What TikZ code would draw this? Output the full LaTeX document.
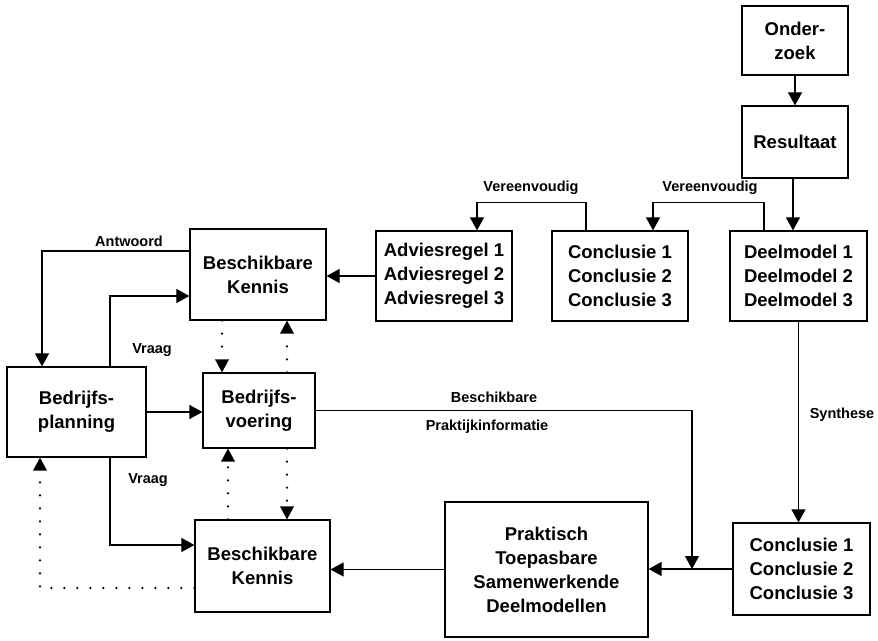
\documentclass[tikz,border=0pt]{standalone}
\usepackage{fontspec}
\setmainfont{Liberation Sans}
\usetikzlibrary{arrows.meta,calc}
\tikzset{
  box/.style={draw, line width=1.2pt, align=center, inner sep=0pt,
    font=\fontsize{18.5}{24}\selectfont\bfseries},
  lbl/.style={font=\fontsize{14.5}{16}\selectfont\bfseries, inner sep=0pt},
  arr/.style={line width=1.1pt, -{Triangle[length=13pt,width=14pt]}},
  dotarr/.style={line width=2.6pt, line cap=round, dash pattern=on 0pt off 13pt,
    -{Triangle[length=13pt,width=14pt,line width=0pt]}},
}
\begin{document}
\begin{tikzpicture}[x=1pt,y=-1pt]
\useasboundingbox (0,0) rectangle (878,640);
% boxes
\node[box, minimum width=106pt, minimum height=69pt] (ond) at (795,40.5) {Onder-\\zoek};
\node[box, minimum width=106pt, minimum height=72pt] (res) at (795,142) {Resultaat};
\node[box, minimum width=137pt, minimum height=90pt] (deel) at (798.5,276) {Deelmodel 1\\Deelmodel 2\\Deelmodel 3};
\node[box, minimum width=136pt, minimum height=90pt] (conca) at (620,276) {Conclusie 1\\Conclusie 2\\Conclusie 3};
\node[box, minimum width=136pt, minimum height=90pt] (adv) at (444,276) {Adviesregel 1\\Adviesregel 2\\Adviesregel 3};
\node[box, minimum width=136pt, minimum height=91pt] (bka) at (258,274.5) {Beschikbare\\Kennis};
\node[box, minimum width=139pt, minimum height=90pt] (bp) at (76.5,412) {Bedrijfs-\\planning};
\node[box, minimum width=112pt, minimum height=75pt] (bv) at (259,410.5) {Bedrijfs-\\voering};
\node[box, minimum width=135pt, minimum height=92pt] (bkb) at (262.5,566) {Beschikbare\\Kennis};
\node[box, minimum width=203pt, minimum height=135pt] (prak) at (546.5,569.5) {Praktisch\\Toepasbare\\Samenwerkende\\Deelmodellen};
\node[box, minimum width=137pt, minimum height=92pt] (concb) at (801.5,569) {Conclusie 1\\Conclusie 2\\Conclusie 3};
% connectors
\draw[arr] (ond) -- (res);
\draw[arr] ($(res.south)+(-2,0)$) -- ($(res.south|-deel.north)+(-2,0)$);
\draw[arr] ($(conca.north)+(-34,0)$) -- ++(0,-28) -| ($(adv.north)+(33,0)$);
\draw[arr] ($(deel.north)+(-34.5,0)$) -- ++(0,-28) -| ($(conca.north)+(33,0)$);
\draw[arr] (adv.west) -- (adv.west -| bka.east);
\draw[arr] ($(bka.west)+(0,-23.5)$) -| ($(bp.north)+(-34.5,0)$);
\draw[arr] ($(bp.north)+(33.5,0)$) |- ($(bka.west)+(0,21.5)$);
\draw[arr] ($(bp.south)+(33.5,0)$) |- ($(bkb.west)+(0,-21)$);
\draw[dotarr] ($(bkb.west)+(0,22)$) -| ($(bp.south)+(-36.5,0)$);
\draw[arr] (bp.east) -- (bp.east -| bv.west);
\draw[dotarr] ($(bka.south)+(-36,0)$) -- ($(bv.north)+(-37,0)$);
\draw[dotarr] ($(bv.north)+(28,0)$) -- ($(bka.south)+(29,0)$);
\draw[dotarr] ($(bkb.north)+(-34.5,0)$) -- ($(bv.south)+(-31,0)$);
\draw[dotarr] ($(bv.south)+(28,0)$) -- ($(bkb.north)+(24.5,0)$);
\coordinate (j) at (692,569);
\draw[arr] (bv.east) -| (j);
\draw[arr] (concb.west) -- (concb.west -| prak.east);
\draw[arr] (prak.west) -- (prak.west -| bkb.east);
\draw[arr] (deel.south) -- (deel.south |- concb.north);
% labels
\node[lbl] (l1) at (531,188) {Vereenvoudig};
\node[lbl] (l2) at (710,188) {Vereenvoudig};
\node[lbl] (l3) at (129,241) {Antwoord};
\node[lbl] (l4) at (152,350) {Vraag};
\node[lbl] (l5) at (148,480) {Vraag};
\node[lbl] (l6) at (494,397) {Beschikbare};
\node[lbl] (l7) at (487,427) {Praktijkinformatie};
\node[lbl] (l8) at (842,415) {Synthese};
\end{tikzpicture}
\end{document}
